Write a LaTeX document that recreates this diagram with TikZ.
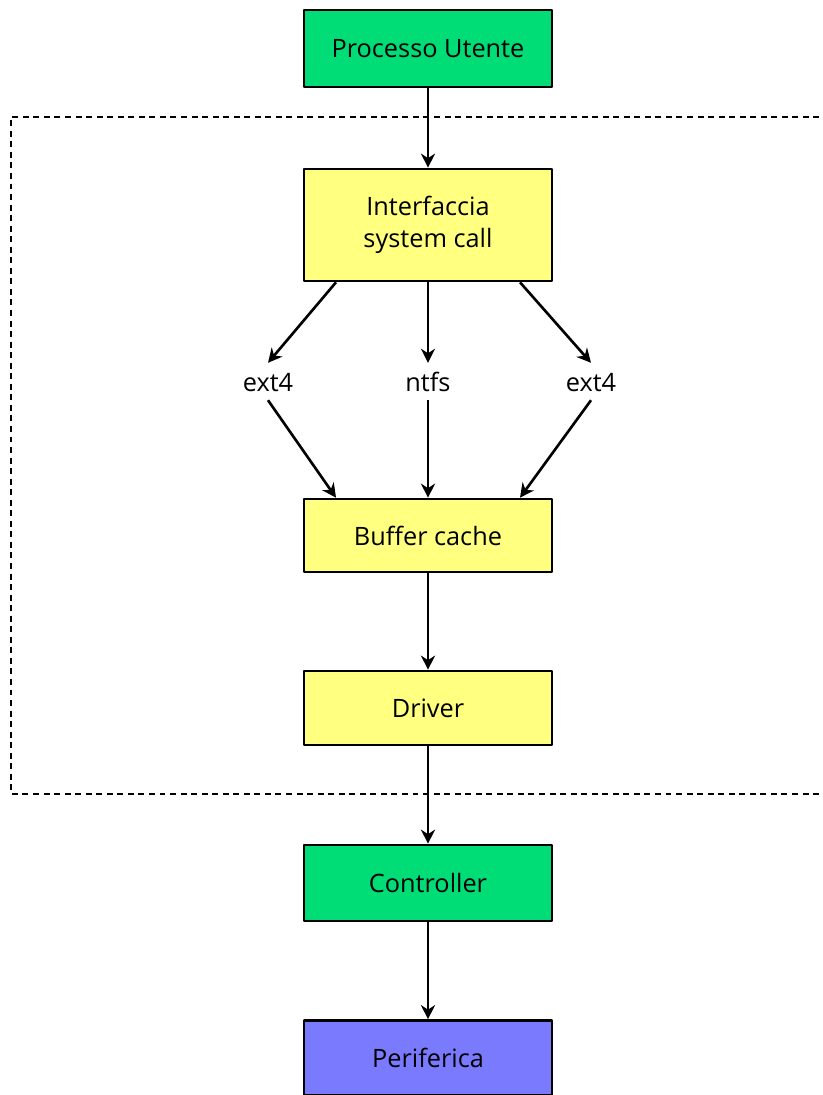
\documentclass[tikz,border=0pt]{standalone}
\usepackage{fontspec}
\setmainfont{Open Sans}
\usetikzlibrary{arrows.meta}
\definecolor{verde}{RGB}{0,221,119}
\definecolor{giallo}{RGB}{255,255,128}
\definecolor{viola}{RGB}{122,122,255}

\begin{document}
\begin{tikzpicture}[x=0.02cm, y=-0.02cm, font=\fontsize{14.4}{18.5}\selectfont, line join=round, >={Stealth[length=8pt,width=8pt]},
		blocco/.style={draw, line width=1.5pt, minimum width=4.96cm, align=center, inner sep=0pt},
		etichetta/.style={inner xsep=2pt, inner ysep=0pt, text height=16.4pt, text depth=4.5pt},
		freccia/.style={->, line width=1.5pt}]
			\useasboundingbox (0,0) rectangle (822,1095);
			\clip (0,0) rectangle (822,1095);
			
			% zona kernel
			\draw[line width=1.4pt, dash pattern=on 3.4pt off 2.6pt] (830,117) -- (11,117) -- (11,794) -- (830,794);
			
			\node[blocco, fill=verde, minimum height=1.54cm] (utente) at (428,48.5) {Processo Utente};
			\node[blocco, fill=giallo, minimum height=2.24cm] (interfaccia) at (428,225) {Interfaccia\\system call};
			\node[etichetta] (fsa) at (268,381.5) {ext4};
			\node[etichetta] (fsb) at (428,381.5) {ntfs};
			\node[etichetta] (fsc) at (591,381.5) {ext4};
			\node[blocco, fill=giallo, minimum height=1.46cm] (buffer) at (428,535.5) {Buffer cache};
			\node[blocco, fill=giallo, minimum height=1.48cm] (driver) at (428,708) {Driver};
			\node[blocco, fill=verde, minimum height=1.52cm] (controller) at (428,883) {Controller};
			\node[blocco, fill=viola, minimum height=1.5cm] (periferica) at (428,1058) {Periferica};
			
			\draw[freccia] (utente) -- (interfaccia);
			\foreach \f/\dx in {fsa/-92, fsb/0, fsc/92} {
				\draw[freccia] ([shift={(\dx,0)}]interfaccia.south) -- (\f.north);
				\draw[freccia] (\f.south) -- ([shift={(\dx,0)}]buffer.north);
			}
			\draw[freccia] (buffer) -- (driver);
			\draw[freccia] (driver) -- (controller);
			\draw[freccia] (controller) -- (periferica);
			
		\end{tikzpicture}
\end{document}
